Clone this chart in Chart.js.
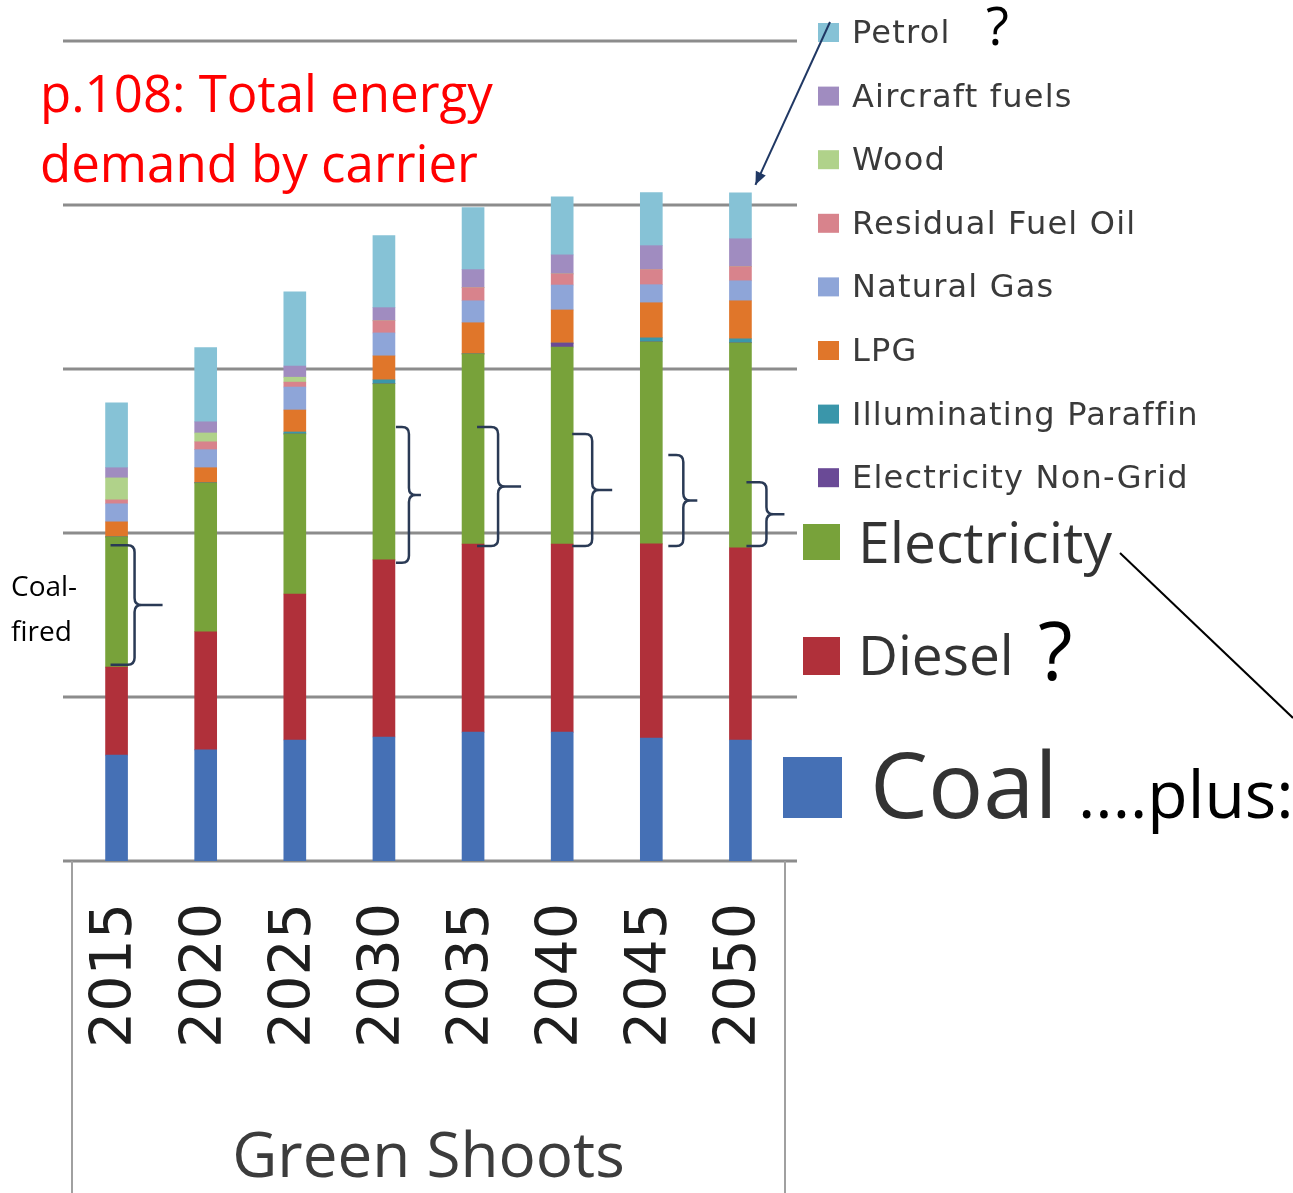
<!DOCTYPE html>
<html>
<head>
<meta charset="utf-8">
<script src="https://cdn.jsdelivr.net/npm/chart.js@4.4.1/dist/chart.umd.min.js"></script>
<style>
  html, body { margin: 0; padding: 0; background: #fff; }
  #wrap { width: 1293px; height: 1193px; position: relative; }
</style>
</head>
<body>
<div id="wrap"><canvas id="chart"></canvas></div>
<script>
// years and carriers (gridlines every 500)
const years = ['2015', '2020', '2025', '2030', '2035', '2040', '2045', '2050'];
const coal = [323, 339, 369, 378, 393, 393, 375, 369];
const diesel = [268, 360, 445, 540, 573, 573, 592, 586];
const electricity = [397, 454, 488, 537, 580, 601, 616, 625];
const elecNonGrid = [0, 0, 0, 0, 0, 12, 0, 0];
const paraffin = [0, 0, 6, 12, 0, 0, 12, 12];
const lpg = [46, 46, 67, 73, 95, 101, 107, 116];
const naturalGas = [55, 55, 70, 70, 67, 76, 55, 61];
const residualFuelOil = [12, 24, 15, 37, 40, 34, 46, 43];
const wood = [67, 27, 15, 0, 0, 0, 0, 0];
const aircraftFuels = [31, 34, 34, 40, 55, 58, 73, 85];
const petrol = [198, 226, 226, 220, 189, 177, 162, 140];

const carrierNames = ['Coal', 'Diesel', 'Electricity', 'Electricity Non-Grid', 'Illuminating Paraffin',
  'LPG', 'Natural Gas', 'Residual Fuel Oil', 'Wood', 'Aircraft fuels', 'Petrol'];
const carrierColors = ['#4570b5', '#b0303a', '#78a23a', '#6a4a96', '#3a96aa',
  '#e0762a', '#8ea5d8', '#d8838c', '#b0d28a', '#a08cc0', '#86c2d6'];
const carrierValues = [coal, diesel, electricity, elecNonGrid, paraffin, lpg, naturalGas,
  residualFuelOil, wood, aircraftFuels, petrol];

const gridValues = [0, 500, 1000, 1500, 2000, 2500];

// hand-drawn braces over the electricity segments: bar index, value range, x offsets from bar centre
const braces = [
  { bar: 0, from: 598, to: 963, left: -6, spine: 18, tip: 46 },
  { bar: 3, from: 909, to: 1323, left: 12, spine: 25, tip: 37 },
  { bar: 4, from: 960, to: 1323, left: 4, spine: 25, tip: 48 },
  { bar: 5, from: 960, to: 1302, left: 10, spine: 30, tip: 50 },
  { bar: 6, from: 960, to: 1238, left: 17, spine: 32, tip: 46 },
  { bar: 7, from: 960, to: 1155, left: 6, spine: 26, tip: 44 },
];

const datasets = carrierNames.map((name, i) => ({
  label: name,
  data: carrierValues[i],
  backgroundColor: carrierColors[i],
  borderWidth: 0,
  barThickness: 22,
}));

function drawBrace(ctx, x0, xs, xt, yTop, yBot) {
  const ym = (yTop + yBot) / 2, r = 7;
  ctx.beginPath();
  ctx.moveTo(x0, yTop);
  ctx.lineTo(xs - r, yTop);
  ctx.quadraticCurveTo(xs, yTop, xs, yTop + r);
  ctx.lineTo(xs, ym - r);
  ctx.quadraticCurveTo(xs, ym, xs + r, ym);
  ctx.lineTo(xt, ym);
  ctx.moveTo(xs + r, ym);
  ctx.quadraticCurveTo(xs, ym, xs, ym + r);
  ctx.lineTo(xs, yBot - r);
  ctx.quadraticCurveTo(xs, yBot, xs - r, yBot);
  ctx.lineTo(x0, yBot);
  ctx.stroke();
}

const gridPlugin = {
  id: 'gridLines',
  beforeDatasetsDraw(chart) {
    const { ctx, chartArea, scales: { y } } = chart;
    ctx.save();
    ctx.strokeStyle = '#8c8c8c';
    ctx.lineWidth = 3;
    gridValues.forEach(v => {
      const py = Math.round(y.getPixelForValue(v));
      ctx.beginPath();
      ctx.moveTo(chartArea.left - 9, py);
      ctx.lineTo(chartArea.right + 12, py);
      ctx.stroke();
    });
    // box round the category axis
    ctx.strokeStyle = '#a0a0a0';
    ctx.lineWidth = 2;
    ctx.beginPath();
    ctx.moveTo(chartArea.left, chartArea.bottom);
    ctx.lineTo(chartArea.left, chart.height);
    ctx.moveTo(chartArea.right, chartArea.bottom);
    ctx.lineTo(chartArea.right, chart.height);
    ctx.stroke();
    ctx.restore();
  }
};

const notesPlugin = {
  id: 'notes',
  afterDraw(chart) {
    const { ctx, scales: { x, y } } = chart;
    ctx.save();

    // braces
    ctx.strokeStyle = '#2a3a55';
    ctx.lineWidth = 2.5;
    braces.forEach(b => {
      const cx = x.getPixelForValue(b.bar);
      drawBrace(ctx, cx + b.left, cx + b.spine, cx + b.tip, y.getPixelForValue(b.to), y.getPixelForValue(b.from));
    });

    // legend, small entries (top of stack first)
    ctx.textBaseline = 'alphabetic';
    ctx.textAlign = 'left';
    ctx.font = '32px "DejaVu Sans"';
    ctx.letterSpacing = '1.2px';
    for (let k = 0; k < 8; k++) {
      const idx = 10 - k;
      const base = 43 + k * 63.6;
      ctx.fillStyle = carrierColors[idx];
      ctx.fillRect(818, base - 20, 21, 19);
      ctx.fillStyle = '#3a3a3a';
      ctx.fillText(carrierNames[idx], 852, base);
    }
    ctx.letterSpacing = '0px';

    // legend, large entries
    const big = [
      { idx: 2, sq: [803, 524, 37, 36], tx: 858, base: 563, size: 57 },
      { idx: 1, sq: [803, 637, 37, 38], tx: 858, base: 675, size: 55 },
      { idx: 0, sq: [783, 757, 59, 61], tx: 870, base: 818, size: 92 },
    ];
    big.forEach(e => {
      ctx.fillStyle = carrierColors[e.idx];
      ctx.fillRect(...e.sq);
      ctx.fillStyle = '#333333';
      ctx.font = e.size + 'px "Open Sans"';
      ctx.fillText(carrierNames[e.idx], e.tx, e.base);
    });

    // red title
    ctx.fillStyle = '#ff0000';
    ctx.font = '51px "Open Sans"';
    ctx.fillText('p.108: Total energy', 40, 112);
    ctx.fillText('demand by carrier', 40, 182);

    // other notes
    ctx.fillStyle = '#000000';
    ctx.font = '53px "Open Sans"';
    ctx.fillText('?', 986, 45);
    ctx.font = '80px "Open Sans"';
    ctx.fillText('?', 1038, 680);
    ctx.font = '66px "Open Sans"';
    ctx.fillText('....plus:', 1078, 818);
    ctx.font = '28px "Open Sans"';
    ctx.fillText('Coal-', 11, 596);
    ctx.fillText('fired', 11, 641);

    // arrow from the Petrol legend entry to the top of the last bar
    const last = years.length - 1;
    const total = carrierValues.reduce((s, arr) => s + arr[last], 0);
    const ax = x.getPixelForValue(last) + 15, ay = y.getPixelForValue(total) - 8;
    ctx.strokeStyle = '#203864';
    ctx.fillStyle = '#203864';
    ctx.lineWidth = 2;
    ctx.beginPath();
    ctx.moveTo(830, 22);
    ctx.lineTo(ax, ay);
    ctx.stroke();
    const ang = Math.atan2(ay - 22, ax - 830);
    ctx.beginPath();
    ctx.moveTo(ax, ay);
    ctx.lineTo(ax - 14 * Math.cos(ang - 0.4), ay - 14 * Math.sin(ang - 0.4));
    ctx.lineTo(ax - 14 * Math.cos(ang + 0.4), ay - 14 * Math.sin(ang + 0.4));
    ctx.closePath();
    ctx.fill();

    // line from Electricity off the right edge
    ctx.strokeStyle = '#000000';
    ctx.lineWidth = 2;
    ctx.beginPath();
    ctx.moveTo(1120, 553);
    ctx.lineTo(1293, 718);
    ctx.stroke();

    ctx.restore();
  }
};

const config = {
  type: 'bar',
  data: { labels: years, datasets: datasets },
  options: {
    responsive: true,
    maintainAspectRatio: false,
    animation: false,
    layout: { padding: { left: 72, right: 508, top: 41, bottom: 0 } },
    plugins: {
      legend: { display: false },
      tooltip: { enabled: false },
    },
    scales: {
      x: {
        stacked: true,
        grid: { display: false, drawTicks: false },
        border: { display: false },
        ticks: {
          autoSkip: false,
          minRotation: 90,
          maxRotation: 90,
          padding: 42,
          color: '#1e1e1e',
          font: { family: '"DejaVu Sans"', size: 57 },
        },
        title: {
          display: true,
          text: 'Green Shoots',
          color: '#3c3c3c',
          font: { family: '"Open Sans"', size: 62 },
          padding: { top: 0, bottom: -4 },
        },
        afterFit(scale) { scale.height = 332; },
      },
      y: {
        stacked: true,
        display: false,
        min: 0,
        max: 2500,
      },
    },
  },
  plugins: [gridPlugin, notesPlugin],
};

const myChart = new Chart(document.getElementById('chart'), config);
</script>
</body>
</html>
